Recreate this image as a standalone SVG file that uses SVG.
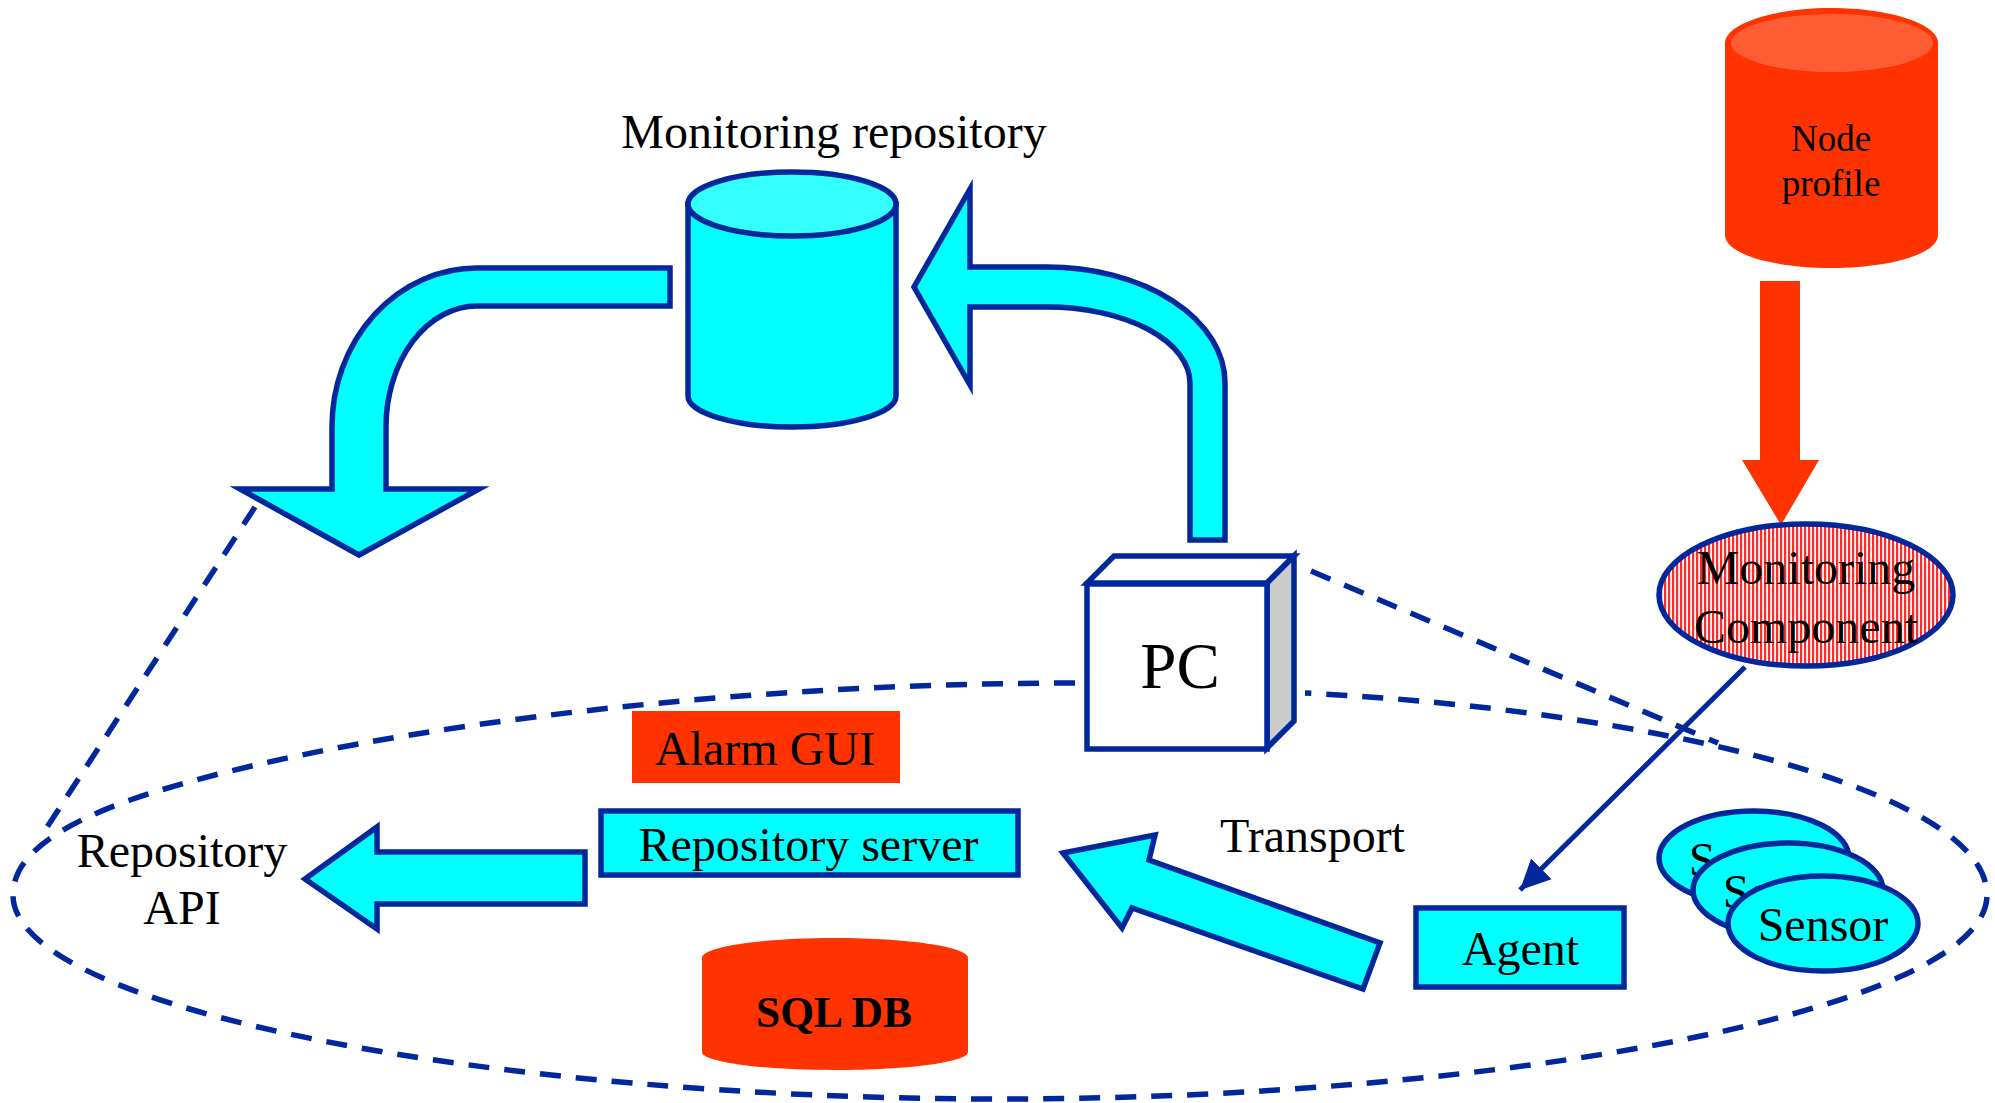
<svg xmlns="http://www.w3.org/2000/svg" width="1995" height="1103" viewBox="0 0 1995 1103">
<style>
text{font-family:"Liberation Serif","Times New Roman",serif;font-size:48px;fill:#000;text-anchor:middle}
.s{stroke:#00289c;stroke-width:5.5;stroke-linejoin:miter;stroke-miterlimit:10}
.c{fill:#00ffff}
.t{fill:#33ffff}
.r{fill:#ff3300}
.d{fill:none;stroke:#00289c;stroke-width:5.5;stroke-dasharray:21 15}
</style>
<defs>
<pattern id="stripes" patternUnits="userSpaceOnUse" width="4" height="4"><rect width="4" height="4" fill="#ff2a2a"/><rect x="2.2" width="1.8" height="4" fill="#fff"/></pattern>
<marker id="head" markerUnits="userSpaceOnUse" markerWidth="32" markerHeight="32" refX="30" refY="16" orient="auto"><path d="M0,1.500L30,16L0,30.500z" fill="#00289c"/></marker>
</defs>
<g id="connectors">
<path class="d" d="M1075,683C700,683 320,735 130,800C60,825 13,855 13,895C13,1010 500,1099 1000,1099C1500,1099 1987,1010 1987,895C1987,790 1650,710 1305,693"/>
<path class="d" d="M1311,571L1718,743"/>
<path class="d" d="M255,507L40,838"/>
<path d="M1745,667L1520,890" fill="none" stroke="#00289c" stroke-width="5" marker-end="url(#head)"/>
<path id="arrow-profile" class="r" d="M1760,281H1800V460H1819L1781,525L1742,460H1760z"/>
<path id="arrow-left" class="s c" d="M670,268H477A145,159 0 0 0 332,427V489H240L359,555L479,489H386V427A91,121 0 0 1 477,306H670z"/>
<path id="arrow-right" class="s c" d="M970,189L914,287L970,385V307H1047A143,76 0 0 1 1190,383V540H1225V383A178,116 0 0 0 1047,267H970z"/>
<path id="arrow-api" class="s c" d="M305,879L377,827V852H585V904H377V929z"/>
<path id="arrow-transport" class="s c" d="M1063,853L1155,835L1149,860L1380,943L1363,989L1132,908L1122,928z"/>
</g>
<g id="node-profile">
<path class="r" d="M1725,43C1725,24 1773,8 1831,8C1890,8 1938,24 1938,43V235C1938,254 1890,268 1831,268C1773,268 1725,254 1725,235z"/>
<ellipse cx="1832" cy="43" rx="101" ry="29" fill="#ff5c33"/>
<text x="1831" y="151" style="font-size:37px">Node</text>
<text x="1831" y="196" style="font-size:37px">profile</text>
</g>
<g id="monitoring-component">
<ellipse class="s" cx="1806" cy="595" rx="147" ry="71" fill="url(#stripes)"/>
<text x="1806" y="584">Monitoring</text>
<text x="1806" y="643">Component</text>
</g>
<g id="monitoring-repository">
<path class="s c" d="M688,204V396C688,413 735,427 792,427C849,427 896,413 896,396V204z"/>
<ellipse class="s t" cx="792" cy="204" rx="104" ry="32"/>
<text x="834" y="148">Monitoring repository</text>
</g>
<g id="pc">
<path class="s" fill="#fff" d="M1087,583L1114,556H1294L1267,583z"/>
<path class="s" fill="#ccc" d="M1267,583L1294,556V721L1267,748z"/>
<rect class="s" x="1087" y="584" width="180" height="165" fill="#fff"/>
<text x="1180" y="688" style="font-size:65px">PC</text>
</g>
<g id="alarm-gui">
<rect class="r" x="632" y="711" width="268" height="72"/>
<text x="765" y="765">Alarm GUI</text>
</g>
<g id="repository-server">
<rect class="s c" x="601" y="811" width="417" height="64"/>
<text x="808.500" y="861">Repository server</text>
</g>
<g id="repository-api">
<text x="182" y="867">Repository</text>
<text x="182" y="924">API</text>
</g>
<g id="transport"><text x="1312.500" y="852">Transport</text></g>
<g id="agent">
<rect class="s c" x="1416" y="908" width="208" height="79"/>
<text x="1520.500" y="965">Agent</text>
</g>
<g id="sql-db">
<path class="r" d="M702,958C702,947 761,938 835,938C909,938 968,947 968,958V1052C968,1062 909,1070 835,1070C761,1070 702,1062 702,1052z"/>
<text x="834" y="1027" style="font-size:43.500px;font-weight:bold">SQL DB</text>
</g>
<g id="sensor-1">
<ellipse class="s c" cx="1754" cy="858" rx="95" ry="47"/>
<text x="1754" y="876">Sensor</text>
</g>
<g id="sensor-2">
<ellipse class="s c" cx="1788" cy="890" rx="95" ry="47"/>
<text x="1788" y="908">Sensor</text>
</g>
<g id="sensor-3">
<ellipse class="s c" cx="1823" cy="923.500" rx="95" ry="47.500"/>
<text x="1823" y="941">Sensor</text>
</g>
</svg>
